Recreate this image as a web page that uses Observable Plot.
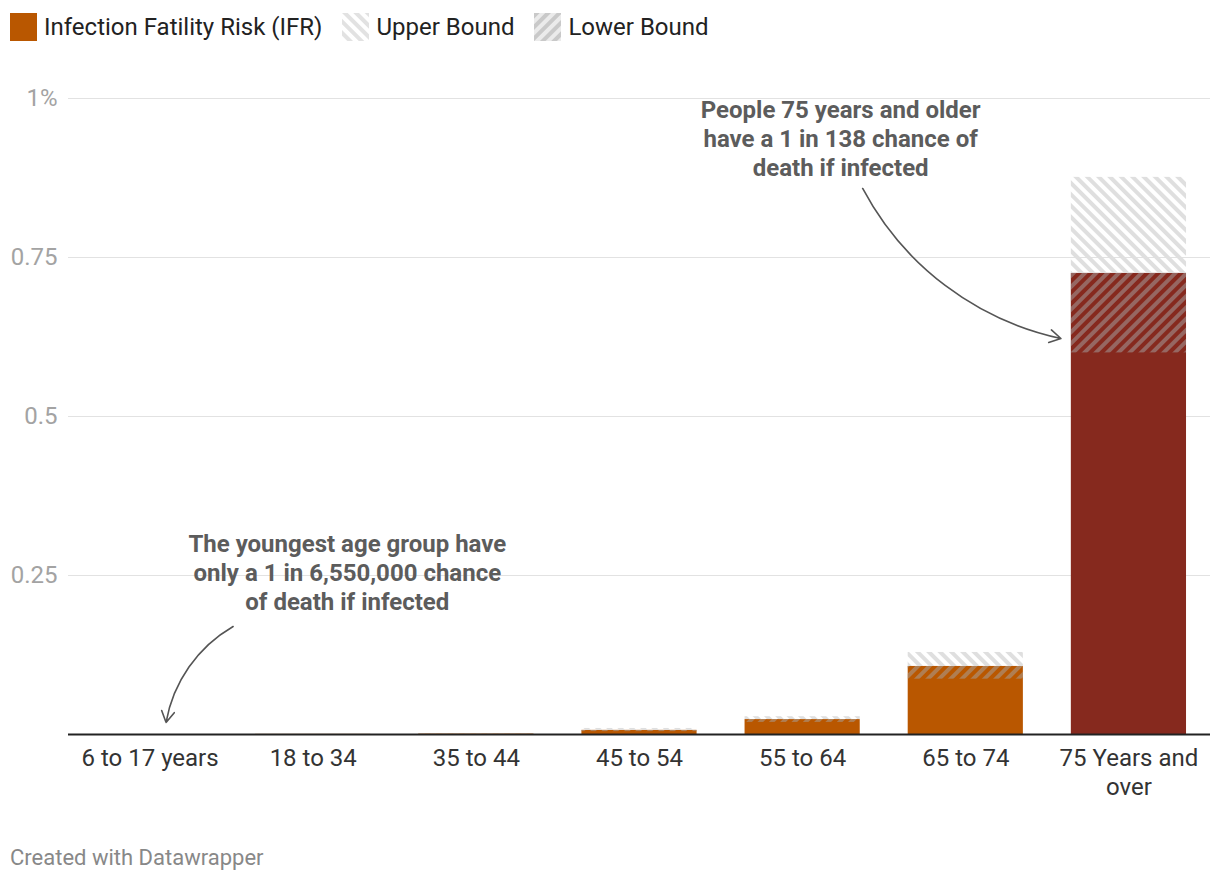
<!DOCTYPE html>
<html><head><meta charset="utf-8">
<script src="https://cdn.jsdelivr.net/npm/d3@7"></script>
<script src="https://cdn.jsdelivr.net/npm/@observablehq/plot@0.6"></script>
<style>
body{margin:0;background:#fff;font-family:Roboto,sans-serif;width:1220px;height:884px;position:relative;overflow:hidden}
#legend{position:absolute;top:13px;left:10px;display:flex;align-items:center;font-size:24px;color:#222;height:28px}
#legend .item{display:flex;align-items:center;margin-right:20px}
#legend svg{margin-right:7px;display:block}
#chart{position:absolute;top:54px;left:0}
#footer{position:absolute;top:847px;left:10px;font-size:22px;color:#888;line-height:22px}
</style></head><body>
<div id="legend"></div>
<div id="chart"></div>
<div id="footer">Created with Datawrapper</div>
<script>
// ---- data ----
const ageGroups = ["6 to 17 years", "18 to 34", "35 to 44", "45 to 54", "55 to 64", "65 to 74", "75 Years and\nover"];
const ifrValues = [0.0000153, 0.0002, 0.0007, 0.0065, 0.0235, 0.107, 0.725];
const lowerBound = [0.00001, 0.00015, 0.0005, 0.0045, 0.019, 0.087, 0.600];
const upperBound = [0.00002, 0.0003, 0.001, 0.0095, 0.028, 0.129, 0.876];
const highlighted = [false, false, false, false, false, false, true];
const yTicks = [0.25, 0.5, 0.75, 1];
const yTickLabels = ["0.25", "0.5", "0.75", "1%"];
const legendLabels = ["Infection Fatility Risk (IFR)", "Upper Bound", "Lower Bound"];
const annotationText = ["People 75 years and older\nhave a 1 in 138 chance of\ndeath if infected",
                        "The youngest age group have\nonly a 1 in 6,550,000 chance\nof death if infected"];
const annotationX = [4.233, 1.209];
const annotationY = [0.939, 0.2563];
const arrowX1 = [4.368, 0.509];
const arrowY1 = [0.8585, 0.1698];
const arrowX2 = [5.583, 0.098];
const arrowY2 = [0.6226, 0.0189];

// ---- build ----
const rows = ageGroups.map((a, i) => ({i, age: a, ifr: ifrValues[i], lo: lowerBound[i], hi: upperBound[i], hl: highlighted[i]}));
const ticks = yTicks.map((v, i) => ({v, label: yTickLabels[i]}));
const notes = annotationText.map((t, i) => ({t, x: annotationX[i], y: annotationY[i]}));
const arrows = arrowX1.map((_, i) => ({x1: arrowX1[i], y1: arrowY1[i], x2: arrowX2[i], y2: arrowY2[i]}));
const halfW = 0.353;
const ORANGE = "#b95700", DARKRED = "#86291e";

function defsMark() {
  const g = d3.create("svg:g");
  const defs = g.append("defs");
  const up = defs.append("pattern").attr("id", "upperHatch").attr("patternUnits", "userSpaceOnUse")
    .attr("width", 8).attr("height", 8).attr("patternTransform", "rotate(-45)");
  up.append("rect").attr("width", 4).attr("height", 8).attr("fill", "#dfdfdf");
  const lo = defs.append("pattern").attr("id", "lowerHatch").attr("patternUnits", "userSpaceOnUse")
    .attr("width", 8).attr("height", 8).attr("patternTransform", "rotate(45)");
  lo.append("rect").attr("width", 4).attr("height", 8).attr("fill", "rgba(165,165,165,0.5)");
  return g.node();
}

const chart = Plot.plot({
  width: 1220, height: 760,
  marginTop: 44, marginBottom: 80, marginLeft: 68, marginRight: 10,
  style: {fontFamily: "Roboto, sans-serif", background: "transparent", overflow: "visible"},
  x: {domain: [-0.5, 6.5], axis: null},
  y: {domain: [0, 1], axis: null},
  marks: [
    defsMark,
    Plot.ruleY(ticks, {y: "v", stroke: "#e2e2e2", strokeWidth: 1}),
    Plot.text(ticks, {x: () => -0.5, y: "v", text: "label", textAnchor: "end", dx: -11, fill: "#a3a3a3", fontSize: 24}),
    Plot.rect(rows, {x1: d => d.i - halfW, x2: d => d.i + halfW, y1: () => 0, y2: "ifr", fill: d => d.hl ? DARKRED : ORANGE}),
    Plot.rect(rows, {x1: d => d.i - halfW, x2: d => d.i + halfW, y1: "lo", y2: "ifr", fill: () => "url(#lowerHatch)"}),
    Plot.rect(rows, {x1: d => d.i - halfW, x2: d => d.i + halfW, y1: "ifr", y2: "hi", fill: () => "url(#upperHatch)"}),
    Plot.ruleY([0], {stroke: "#222", strokeWidth: 2}),
    Plot.text(rows, {x: "i", y: () => 0, text: "age", lineAnchor: "top", dy: 12, fill: "#333", fontSize: 24, lineHeight: 1.17}),
    Plot.text(notes, {x: "x", y: "y", text: "t", lineAnchor: "middle", fill: "#5c5c5c", fontSize: 24, fontWeight: "bold", lineHeight: 1.21}),
    Plot.arrow(arrows, {x1: "x1", y1: "y1", x2: "x2", y2: "y2", bend: -25, stroke: "#555", strokeWidth: 1.6, headLength: 12})
  ]
});
document.getElementById("chart").appendChild(chart);

// ---- legend ----
const legend = d3.select("#legend");
const swatchDraw = [
  s => s.append("rect").attr("width", 27).attr("height", 28).attr("fill", ORANGE),
  s => {
    const p = s.append("defs").append("pattern").attr("id", "lgUp").attr("patternUnits", "userSpaceOnUse")
      .attr("width", 8).attr("height", 8).attr("patternTransform", "rotate(-45)");
    p.append("rect").attr("width", 4).attr("height", 8).attr("fill", "#e2e2e2");
    s.append("rect").attr("width", 27).attr("height", 28).attr("fill", "url(#lgUp)");
  },
  s => {
    const p = s.append("defs").append("pattern").attr("id", "lgLo").attr("patternUnits", "userSpaceOnUse")
      .attr("width", 8).attr("height", 8).attr("patternTransform", "rotate(45)");
    p.append("rect").attr("width", 8).attr("height", 8).attr("fill", "#ebebeb");
    p.append("rect").attr("width", 4).attr("height", 8).attr("fill", "#c9c9c9");
    s.append("rect").attr("width", 27).attr("height", 28).attr("fill", "url(#lgLo)");
  }
];
legendLabels.forEach((lab, i) => {
  const item = legend.append("div").attr("class", "item");
  const s = item.append("svg").attr("width", 27).attr("height", 28);
  swatchDraw[i](s);
  item.append("span").text(lab);
});
</script>
</body></html>
